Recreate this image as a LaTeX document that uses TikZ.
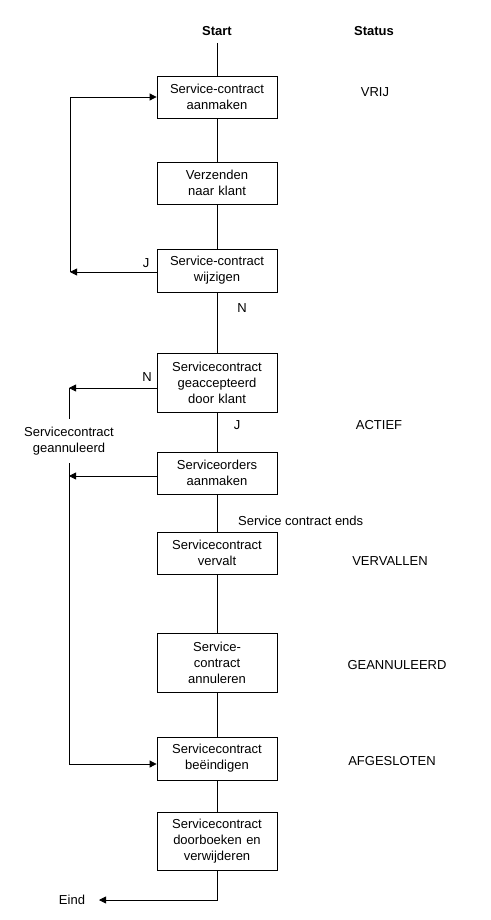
\documentclass[tikz,border=0pt]{standalone}
\usepackage{fontspec}
\setmainfont{Liberation Sans}
\usetikzlibrary{arrows.meta}
\begin{document}
\begin{tikzpicture}[x=1pt,y=-1pt,
  every node/.style={font=\fontsize{13}{16}\selectfont, inner sep=0pt},
  proc/.style={draw, line width=0.8pt, minimum width=120pt, text width=116pt, align=center},
  conn/.style={line width=0.8pt},
  arr/.style={line width=0.8pt, -{Triangle[length=7pt,width=7pt]}},
  hdr/.style={font=\fontsize{13}{16}\selectfont\bfseries}]
\useasboundingbox (0,0) rectangle (490,920);
\fill[white] (0,0) rectangle (490,920);

\node[hdr] (start) at (217,31) {Start};
\node[hdr] (status) at (374,31) {Status};

\node[proc, minimum height=42pt] (b1) at (217,97) {Service-contract\\aanmaken};
\node[proc, minimum height=42pt] (b2) at (217,183) {Verzenden\\naar klant};
\node[proc, minimum height=43pt] (b3) at (217,270.5) {Service-contract\\wijzigen};
\node[proc, minimum height=59pt] (b4) at (217,382.5) {Servicecontract\\geaccepteerd\\door klant};
\node[proc, minimum height=42pt] (b5) at (217,473) {Serviceorders\\aanmaken};
\node[proc, minimum height=42pt] (b6) at (217,553) {Servicecontract\\vervalt};
\node[proc, minimum height=59pt] (b7) at (217,662.5) {Service-\\contract\\annuleren};
\node[proc, minimum height=43pt] (b8) at (217,758.5) {Servicecontract\\beëindigen};
\node[proc, minimum height=58pt] (b9) at (217,841) {Servicecontract\\doorboeken en\\verwijderen};

\node (vrij) at (375,92) {VRIJ};
\node (actief) at (379,425) {ACTIEF};
\node (vervallen) at (390,561) {VERVALLEN};
\node (geann) at (397,665) {GEANNULEERD};
\node (afgesl) at (392,761) {AFGESLOTEN};

\node (j1) at (146,263) {J};
\node (n1) at (242,308) {N};
\node (n2) at (147,377) {N};
\node (j2) at (237,425) {J};
\node[anchor=west] (ends) at (238,521) {Service contract ends};

\node[align=center, minimum height=44pt] (canc) at (69,441) {Servicecontract\\geannuleerd};
\node (eind) at (72,900) {Eind};

\coordinate (loopL) at (70,272);
\coordinate (c1) at (69,388);
\coordinate (c2) at (69,476);
\coordinate (c3) at (69,764);
\coordinate (e1) at (217,900);
\coordinate (e2) at (99,900);

% main flow
\draw[conn] ([yshift=-7pt]start.south) -- (b1.north);
\draw[conn] (b1) -- (b2);
\draw[conn] (b2) -- (b3);
\draw[conn] (b3) -- (b4);
\draw[conn] (b4) -- (b5);
\draw[conn] (b5) -- (b6);
\draw[conn] (b6) -- (b7);
\draw[conn] (b7) -- (b8);
\draw[conn] (b8) -- (b9);

% loop back
\draw[arr] (loopL -| b3.west) -- (loopL);
\draw[arr] (loopL) |- (b1.west);

% cancellation
\draw[arr] (c1 -| b4.west) -- (c1);
\draw[conn] (c1) -- (canc.north);
\draw[arr] (c2 -| b5.west) -- (c2);
\draw[arr] (canc.south) -- (c3) -- (c3 -| b8.west);

% end
\draw[arr] (b9.south) -- (e1) -- (e2);
\end{tikzpicture}
\end{document}
